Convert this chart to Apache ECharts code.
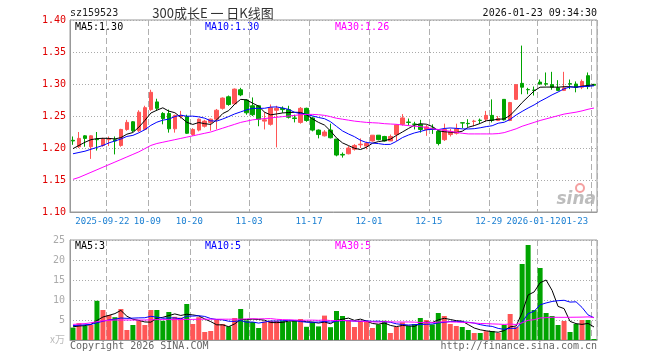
<!DOCTYPE html>
<html><head><meta charset="utf-8">
<script src="https://cdn.jsdelivr.net/npm/echarts@6/dist/echarts.min.js"></script>
<style>html,body{margin:0;padding:0;background:#fff}#c{width:660px;height:360px}</style>
</head><body><div id="c"></div>
<script>
const dates = [
 '2025-09-12','2025-09-15','2025-09-16','2025-09-17','2025-09-18','2025-09-19','2025-09-22','2025-09-23','2025-09-24','2025-09-25',
 '2025-09-26','2025-09-29','2025-09-30','2025-10-09','2025-10-10','2025-10-13','2025-10-14','2025-10-15','2025-10-16','2025-10-17',
 '2025-10-20','2025-10-21','2025-10-22','2025-10-23','2025-10-24','2025-10-27','2025-10-28','2025-10-29','2025-10-30','2025-10-31',
 '2025-11-03','2025-11-04','2025-11-05','2025-11-06','2025-11-07','2025-11-10','2025-11-11','2025-11-12','2025-11-13','2025-11-14',
 '2025-11-17','2025-11-18','2025-11-19','2025-11-20','2025-11-21','2025-11-24','2025-11-25','2025-11-26','2025-11-27','2025-11-28',
 '2025-12-01','2025-12-02','2025-12-03','2025-12-04','2025-12-05','2025-12-08','2025-12-09','2025-12-10','2025-12-11','2025-12-12',
 '2025-12-15','2025-12-16','2025-12-17','2025-12-18','2025-12-19','2025-12-22','2025-12-23','2025-12-24','2025-12-25','2025-12-26',
 '2025-12-29','2025-12-30','2025-12-31','2026-01-05','2026-01-06','2026-01-07','2026-01-08','2026-01-09','2026-01-12','2026-01-13',
 '2026-01-14','2026-01-15','2026-01-16','2026-01-19','2026-01-20','2026-01-21','2026-01-22','2026-01-23'];

const opens = [
 1.212,1.202,1.219,1.202,1.214,1.204,1.213,1.213,1.204,1.229,
 1.241,1.227,1.229,1.260,1.272,1.254,1.254,1.230,1.249,1.249,
 1.221,1.228,1.234,1.240,1.245,1.262,1.280,1.269,1.291,1.275,
 1.266,1.266,1.242,1.237,1.259,1.262,1.260,1.247,1.240,1.262,
 1.247,1.228,1.219,1.228,1.214,1.190,1.191,1.198,1.205,1.203,
 1.211,1.220,1.218,1.211,1.221,1.237,1.2405,1.2375,1.237,1.229,
 1.231,1.226,1.213,1.221,1.223,1.2395,1.2385,1.2415,1.2435,1.245,
 1.251,1.243,1.276,1.243,1.276,1.301,1.2915,1.2905,1.303,1.3005,
 1.299,1.294,1.290,1.3005,1.300,1.295,1.313,1.2995];
const closes = [
 1.211,1.215,1.215,1.219,1.213,1.214,1.214,1.211,1.229,1.240,
 1.227,1.256,1.263,1.287,1.262,1.246,1.230,1.251,1.251,1.223,
 1.229,1.245,1.242,1.245,1.259,1.278,1.268,1.292,1.283,1.255,
 1.252,1.245,1.244,1.263,1.262,1.260,1.248,1.246,1.262,1.243,
 1.228,1.221,1.225,1.216,1.189,1.189,1.200,1.204,1.206,1.207,
 1.220,1.213,1.211,1.218,1.236,1.247,1.240,1.237,1.229,1.233,
 1.229,1.207,1.229,1.226,1.230,1.239,1.238,1.242,1.243,1.251,
 1.243,1.246,1.244,1.271,1.299,1.295,1.291,1.290,1.300,1.300,
 1.295,1.290,1.294,1.300,1.295,1.304,1.296,1.298];
const lows = [
 1.205,1.200,1.202,1.183,1.196,1.202,1.203,1.190,1.202,1.227,
 1.225,1.225,1.228,1.258,1.258,1.237,1.224,1.224,1.246,1.222,
 1.219,1.226,1.232,1.227,1.229,1.260,1.266,1.268,1.281,1.252,
 1.250,1.234,1.229,1.235,1.201,1.255,1.246,1.240,1.238,1.241,
 1.226,1.215,1.218,1.215,1.187,1.185,1.190,1.196,1.200,1.198,
 1.210,1.212,1.210,1.211,1.211,1.235,1.235,1.229,1.224,1.219,
 1.222,1.204,1.211,1.218,1.221,1.231,1.233,1.234,1.238,1.241,
 1.240,1.242,1.243,1.242,1.275,1.284,1.284,1.282,1.299,1.297,
 1.291,1.289,1.289,1.292,1.287,1.292,1.292,1.297];
const highs = [
 1.218,1.225,1.220,1.220,1.225,1.216,1.218,1.218,1.230,1.244,
 1.242,1.259,1.266,1.291,1.277,1.256,1.260,1.252,1.258,1.252,
 1.231,1.246,1.244,1.246,1.261,1.279,1.282,1.293,1.294,1.276,
 1.279,1.267,1.256,1.268,1.266,1.265,1.266,1.252,1.264,1.263,
 1.249,1.229,1.228,1.238,1.214,1.193,1.203,1.206,1.215,1.210,
 1.220,1.220,1.219,1.221,1.237,1.253,1.246,1.241,1.244,1.236,
 1.237,1.227,1.238,1.230,1.238,1.240,1.245,1.244,1.246,1.258,
 1.276,1.250,1.276,1.272,1.300,1.360,1.294,1.296,1.307,1.318,
 1.319,1.306,1.319,1.307,1.304,1.307,1.318,1.300];

const ma5 = [
 1.199,1.204,1.209,1.213,1.2146,1.2152,1.215,1.2142,1.2162,1.2216,
 1.2242,1.2326,1.243,1.2546,1.259,1.2628,1.2576,1.2552,1.248,1.2402,
 1.2368,1.2398,1.238,1.2368,1.244,1.2538,1.2584,1.2684,1.276,1.2752,
 1.27,1.2654,1.2558,1.2518,1.2532,1.2548,1.2554,1.2558,1.2556,1.2518,
 1.2454,1.24,1.2358,1.2266,1.2158,1.208,1.2038,1.1996,1.1976,1.2012,
 1.2074,1.21,1.2114,1.2138,1.2196,1.225,1.2304,1.2356,1.2378,1.2372,
 1.2336,1.227,1.2254,1.2248,1.2242,1.2262,1.2324,1.235,1.2384,1.2426,
 1.2434,1.245,1.2454,1.251,1.2606,1.271,1.28,1.2892,1.295,1.2952,
 1.2952,1.295,1.2958,1.2958,1.2948,1.2966,1.2978,1.2986];
const ma10 = [
 1.191,1.193,1.195,1.198,1.201,1.204,1.208,1.211,1.214,1.2181,
 1.2197,1.2238,1.2286,1.2354,1.2403,1.2435,1.2451,1.2491,1.2513,1.2496,
 1.2498,1.2487,1.2466,1.2424,1.2421,1.2453,1.2491,1.2532,1.2564,1.2596,
 1.2619,1.2619,1.2621,1.2639,1.2642,1.2624,1.2604,1.2558,1.2537,1.2525,
 1.2501,1.2477,1.2458,1.2411,1.2338,1.2267,1.2219,1.2177,1.2121,1.2085,
 1.2077,1.2069,1.2055,1.2057,1.2104,1.2162,1.2202,1.2235,1.2258,1.2284,
 1.2293,1.2287,1.2305,1.2313,1.2307,1.2299,1.2297,1.2302,1.2316,1.2334,
 1.2348,1.2387,1.2402,1.2447,1.2516,1.2572,1.2625,1.2673,1.273,1.2779,
 1.2831,1.2875,1.2925,1.2954,1.295,1.2959,1.2964,1.2972];
const ma30 = [
 1.151,1.154,1.158,1.162,1.166,1.170,1.174,1.178,1.182,1.186,
 1.190,1.194,1.199,1.204,1.207,1.209,1.211,1.213,1.215,1.217,
 1.219,1.221,1.223,1.225,1.228,1.231,1.234,1.237,1.240,1.242,
 1.244,1.245,1.246,1.247,1.248,1.249,1.250,1.251,1.252,1.2525,
 1.2525,1.252,1.251,1.249,1.2465,1.245,1.2435,1.242,1.241,1.240,
 1.2395,1.239,1.238,1.2375,1.237,1.236,1.235,1.234,1.2335,1.232,
 1.230,1.229,1.2275,1.226,1.2245,1.223,1.222,1.222,1.222,1.222,
 1.222,1.2225,1.224,1.227,1.230,1.234,1.237,1.240,1.243,1.2455,
 1.248,1.2505,1.253,1.2545,1.256,1.258,1.2605,1.2625];

const volumes = [
 3.1,4.2,3.5,3.75,9.8,7.5,6.25,5.7,7.75,2.5,
 3.75,4.8,3.75,7.5,7.5,4.8,7.0,5.8,5.6,9.0,
 4.0,5.7,2.0,2.25,5.0,4.0,3.4,5.5,7.75,4.9,
 4.5,3.0,4.6,4.8,4.8,4.8,4.6,4.8,5.25,3.3,
 4.4,3.4,6.1,3.2,7.25,6.0,4.8,3.25,4.8,4.8,
 3.0,3.9,4.8,1.75,3.3,4.4,3.5,4.0,5.5,5.0,
 3.9,6.75,6.0,4.0,3.5,3.25,2.5,1.75,1.75,2.2,
 2.25,1.75,3.75,6.5,3.3,19.0,23.75,7.5,18.0,6.75,
 6.0,3.75,4.75,2.0,4.0,5.0,5.0,0.25];
const volMa5 = [
 3.3,3.5,3.6,3.9,4.87,5.75,6.16,6.6,7.4,5.94,
 5.19,4.9,4.51,4.46,5.46,5.67,6.11,6.52,6.14,6.44,
 6.28,6.02,5.26,4.59,3.79,3.79,3.33,4.03,5.13,5.11,
 5.21,5.13,4.95,4.36,4.34,4.4,4.72,4.76,4.85,4.55,
 4.47,4.23,4.49,4.08,4.87,5.19,5.47,4.9,5.22,4.73,
 4.13,3.95,4.26,3.65,3.35,3.63,3.55,3.39,4.14,4.48,
 4.38,5.03,5.43,5.13,4.83,4.7,3.85,3.0,2.55,2.29,
 2.09,1.94,2.34,3.29,3.51,6.86,11.26,12.01,14.31,15.0,
 12.4,8.4,7.85,4.65,4.1,3.9,4.15,3.25];
const volMa10 = [
 3.6,3.7,3.8,3.9,4.3,4.7,5.0,5.2,5.5,5.41,
 5.47,5.53,5.56,5.93,5.7,5.43,5.51,5.52,5.3,5.95,
 5.98,6.07,5.89,5.37,5.12,5.04,4.68,4.65,4.86,4.45,
 4.5,4.23,4.49,4.75,4.73,4.81,4.93,4.86,4.61,4.45,
 4.44,4.48,4.63,4.47,4.71,4.83,4.85,4.7,4.65,4.8,
 4.66,4.71,4.58,4.44,4.04,3.88,3.75,3.83,3.9,3.92,
 4.0,4.29,4.41,4.64,4.66,4.54,4.44,4.22,3.84,3.56,
 3.4,2.9,2.67,2.92,2.9,4.48,6.6,7.18,8.8,9.26,
 9.63,9.83,9.93,9.48,9.55,8.15,6.28,5.55];
const volMa30 = [
 3.9,4.0,4.1,4.3,4.6,4.8,4.9,5.0,5.0,5.0,
 5.0,5.0,5.0,5.05,5.1,5.1,5.1,5.1,5.1,5.15,
 5.15,5.2,5.2,5.2,5.2,5.2,5.2,5.2,5.2,5.27,
 5.32,5.28,5.31,5.35,5.18,5.09,5.04,5.0,4.92,4.95,
 4.97,4.92,5.0,4.86,4.85,4.89,4.82,4.73,4.71,4.57,
 4.53,4.47,4.57,4.55,4.49,4.5,4.51,4.46,4.38,4.39,
 4.37,4.49,4.54,4.51,4.47,4.42,4.35,4.25,4.13,4.09,
 4.02,3.97,3.89,4.0,3.87,4.3,4.93,5.07,5.51,5.58,
 5.68,5.67,5.67,5.68,5.7,5.72,5.77,5.65];

const tickDates  = ['2025-09-22','2025-10-09','2025-10-20','2025-11-03','2025-11-17','2025-12-01','2025-12-15','2025-12-29','2026-01-12','2026-01-23'];
const tickLabels = ['2025-09-22','10-09','10-20','11-03','11-17','12-01','12-15','12-29','2026-01-12','01-23'];
const priceTicks = {min: 1.10, max: 1.40, step: 0.05};
const volTicks = {min: 0, max: 25, step: 5};

const UP = '#ff5656', DOWN = '#00a400';
const MONO = 'DejaVu Sans Mono';
const isTick = (i, v) => tickDates.indexOf(v) >= 0;

const chart = echarts.init(document.getElementById('c'), null, {renderer: 'canvas'});
const candleData = dates.map((d, i) => [opens[i], closes[i], lows[i], highs[i]]);
const volData = volumes.map((v, i) => ({value: v, itemStyle: {color: closes[i] >= opens[i] ? UP : DOWN}}));

const dashV = {color: '#b0b0b0', type: [6, 3], width: 1};
const dotH = {color: '#aaaaaa', type: [1, 2], width: 1};
const lbl = (txt, x, y, color, extra) => Object.assign({type: 'text', x: x, y: y, style: {text: txt, fill: color, font: '10px "' + MONO + '"', textVerticalAlign: 'middle'}}, extra || {});

const option = {
  animation: false,
  backgroundColor: '#fff',
  grid: [
    {left: 70, top: 20, width: 527, height: 192, show: true, borderColor: '#999', borderWidth: 1},
    {left: 70, top: 240, width: 527, height: 100, show: true, borderColor: '#999', borderWidth: 1}
  ],
  xAxis: [
    {type: 'category', gridIndex: 0, data: dates, boundaryGap: true,
     axisLine: {show: true, lineStyle: {color: '#999'}}, axisTick: {show: false},
     axisLabel: {interval: isTick, margin: 5, color: '#1a7fd2', fontFamily: MONO, fontSize: 9,
       formatter: function (v) {
         const k = tickDates.indexOf(v); if (k < 0) return '';
         const s = (k === 0 || k === 8) ? 'w' : (k === tickDates.length - 1 ? 'e' : 'n');
         return '{' + s + '|' + tickLabels[k] + '}';
       },
       rich: {
         n: {padding: [0, 7, 0, 0], color: '#1a7fd2', fontFamily: MONO, fontSize: 9},
         w: {padding: [0, 13, 0, 0], color: '#1a7fd2', fontFamily: MONO, fontSize: 9},
         e: {padding: [0, 39, 0, 0], color: '#1a7fd2', fontFamily: MONO, fontSize: 9}
       }},
     splitLine: {show: true, interval: isTick, lineStyle: dashV}},
    {type: 'category', gridIndex: 1, data: dates, boundaryGap: true,
     axisLine: {show: true, lineStyle: {color: '#999'}}, axisTick: {show: false}, axisLabel: {show: false},
     splitLine: {show: true, interval: isTick, lineStyle: dashV}}
  ],
  yAxis: [
    {type: 'value', gridIndex: 0, min: priceTicks.min, max: priceTicks.max, interval: priceTicks.step,
     axisLine: {show: true, lineStyle: {color: '#999'}}, axisTick: {show: false},
     axisLabel: {color: '#e00000', fontFamily: MONO, fontSize: 10, margin: 4, formatter: v => v.toFixed(2)},
     splitLine: {show: true, lineStyle: dotH}},
    {type: 'value', gridIndex: 1, min: volTicks.min, max: volTicks.max, interval: volTicks.step,
     axisLine: {show: true, lineStyle: {color: '#999'}}, axisTick: {show: false},
     axisLabel: {color: '#aaaaaa', fontFamily: MONO, fontSize: 10, margin: 5, formatter: v => v === 0 ? '' : String(v)},
     splitLine: {show: true, lineStyle: dotH}}
  ],
  series: [
    {type: 'candlestick', xAxisIndex: 0, yAxisIndex: 0, data: candleData, barWidth: 4,
     itemStyle: {color: UP, color0: DOWN, borderColor: UP, borderColor0: DOWN, borderWidth: 1}},
    {type: 'line', xAxisIndex: 0, yAxisIndex: 0, data: ma5, showSymbol: false, lineStyle: {color: '#000', width: 1}, z: 5},
    {type: 'line', xAxisIndex: 0, yAxisIndex: 0, data: ma10, showSymbol: false, lineStyle: {color: '#0000ff', width: 1}, z: 5},
    {type: 'line', xAxisIndex: 0, yAxisIndex: 0, data: ma30, showSymbol: false, lineStyle: {color: '#ff00ff', width: 1}, z: 5},
    {type: 'bar', xAxisIndex: 1, yAxisIndex: 1, data: volData, barWidth: 5},
    {type: 'line', xAxisIndex: 1, yAxisIndex: 1, data: volMa5, showSymbol: false, lineStyle: {color: '#000', width: 1}, z: 5},
    {type: 'line', xAxisIndex: 1, yAxisIndex: 1, data: volMa10, showSymbol: false, lineStyle: {color: '#0000ff', width: 1}, z: 5},
    {type: 'line', xAxisIndex: 1, yAxisIndex: 1, data: volMa30, showSymbol: false, lineStyle: {color: '#ff00ff', width: 1}, z: 5}
  ],
  graphic: [
    lbl('sz159523', 70, 13, '#222'),
    {type: 'text', x: 213, y: 13, style: {text: '300成长E 一 日K线图', fill: '#333', font: '13px "Noto Sans CJK SC"', textAlign: 'center', textVerticalAlign: 'middle'}},
    {type: 'text', x: 597, y: 13, style: {text: '2026-01-23 09:34:30', fill: '#111', font: '10px "' + MONO + '"', textAlign: 'right', textVerticalAlign: 'middle'}},
    lbl('MA5:1.30', 75, 27, '#000'),
    lbl('MA10:1.30', 205, 27, '#0000ff'),
    lbl('MA30:1.26', 335, 27, '#ff00ff'),
    lbl('MA5:3', 75, 246, '#000'),
    lbl('MA10:5', 205, 246, '#0000ff'),
    lbl('MA30:5', 335, 246, '#ff00ff'),
    {type: 'text', x: 65, y: 339, style: {text: 'x万', fill: '#bbbbbb', font: '10px "Noto Sans CJK SC"', textAlign: 'right', textVerticalAlign: 'middle'}},
    lbl('Copyright 2026 SINA.COM', 70, 346, '#666'),
    {type: 'text', x: 597, y: 346, style: {text: 'http://finance.sina.com.cn', fill: '#666', font: '10px "' + MONO + '"', textAlign: 'right', textVerticalAlign: 'middle'}},
    {type: 'circle', shape: {cx: 580, cy: 188, r: 4}, style: {fill: 'none', stroke: '#f4a0a0', lineWidth: 2}},
    {type: 'text', x: 596, y: 200, style: {text: 'sina', fill: '#bdbdbd', font: 'italic bold 17px "DejaVu Sans"', textAlign: 'right', textVerticalAlign: 'middle'}}
  ]
};
chart.setOption(option);
</script></body></html>
